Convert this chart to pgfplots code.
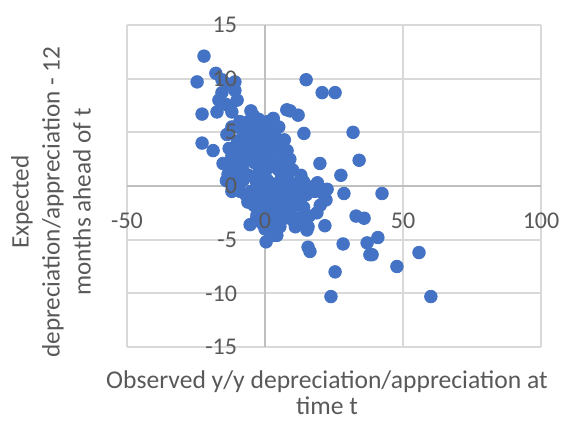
\documentclass[border=0pt]{standalone}
\usepackage{pgfplots}
\pgfplotsset{compat=1.18}
\usepackage{fontspec}
\setmainfont{Carlito}
\definecolor{dotblue}{HTML}{4472C4}
\definecolor{txtgrey}{HTML}{595959}
\definecolor{gridgrey}{HTML}{D9D9D9}
\definecolor{axisgrey}{HTML}{BFBFBF}
\pgfplotsset{
  commonaxis/.style={
    scale only axis, width=207pt, height=161pt,
    xmin=-50, xmax=100, ymin=-15, ymax=15,
    axis lines=middle,
    xtick={-50,0,50,100}, ytick={-15,-10,...,15},
    hide obscured x ticks=false, hide obscured y ticks=false,
    major tick length=0pt,
    tick label style={font=\fontsize{12}{14}\selectfont, text=txtgrey},
    /pgf/number format/assume math mode=true,
    xticklabel style={anchor=north, yshift=-10pt},
    yticklabel style={anchor=east, xshift=-10.5pt},
  }
}
\begin{document}
\begin{tikzpicture}
\useasboundingbox (-63.5pt,-36.5pt) rectangle (217.5pt,173.5pt);
\begin{axis}[
  commonaxis,
  axis line style={-, axisgrey, line width=0.9pt},
  xticklabels={}, yticklabels={},
  grid=major, major grid style={gridgrey, line width=0.9pt},
  label style={text=txtgrey, align=center, inner sep=0pt},
  xlabel={Observed y/y depreciation/appreciation at\\time t},
  ylabel={Expected\\depreciation/appreciation - 12\\months ahead of t},
  xlabel style={font=\fontsize{12.8}{13}\selectfont, at={(axis description cs:0.483,-0.0714)}, anchor=north},
  ylabel style={font=\fontsize{12.6}{15.5}\selectfont, at={(axis description cs:-0.1836,0.45)}, anchor=center, rotate=90},
]
\addplot[only marks, mark=*, mark size=3.15pt, color=dotblue, mark options={draw=none, fill=dotblue}] table {
x y
-22.1 12.1
-17.8 10.5
-24.6 9.7
-15.6 9.9
-13.4 9.5
-10.9 9.7
-15.6 8.7
-10.9 8.9
-16.7 8.0
-10.1 8.0
-12.7 7.4
-14.1 7.6
-22.8 6.7
-17.4 6.9
-12.0 6.9
-5.1 7.0
-9.1 6.0
-2.2 6.2
2.5 5.7
7.9 7.1
14.9 9.9
20.7 8.7
25.4 8.7
9.1 7.0
12.0 6.6
14.1 4.9
31.9 5.0
6.2 4.2
-22.8 4.0
-18.8 3.3
-13.8 4.8
-15.2 2.1
-12.7 1.2
-10.1 5.5
19.9 2.1
34.1 2.4
27.5 1.0
22.5 -0.3
21.0 -0.7
28.6 -0.7
42.4 -0.7
22.1 -1.3
18.8 -2.5
33.0 -2.8
35.9 -3.0
16.3 -0.1
21.7 -3.7
15.6 -3.8
15.2 -4.1
15.6 -5.7
16.3 -6.1
28.3 -5.4
37.0 -5.3
40.9 -4.8
38.0 -6.4
38.8 -6.4
25.4 -8.0
23.9 -10.3
55.8 -6.2
47.8 -7.5
60.1 -10.3
-5.4 -3.6
0.4 -5.2
-2.9 -2.7
4.3 -4.6
5.4 -3.8
-6.2 -1.5
2.9 -4.6
10.1 -3.2
-10.9 -0.2
-13.4 1.1
-9 4.0
-8 3.2
-10 3.0
-7 4.5
-11 2.5
-8 5.2
-6 4.8
-5 5.5
-4 4.5
-3 5.8
-2 5.0
-1 4.2
0 5.5
-7 3.8
-5 3.5
-3 3.2
-1 3.5
1 4.8
2 4.0
3 5.0
4 4.5
-9 3.0
-6 2.5
-4 2.2
-2 2.8
0 2.5
2 3.0
4 3.5
5 2.8
6 3.6
7 4.3
8 3.3
-10 2.0
-8 1.5
-6 1.0
-4 0.8
-2 1.5
0 1.2
1 2.0
3 1.8
5 1.5
7 2.0
9 2.5
10 1.5
13 1.0
-3 0.3
-1 0.0
1 0.5
2 -0.3
4 0.2
6 0.6
8 0.9
10 0.2
12 -0.2
14 0.4
18 -0.5
-5 -0.5
-3 -1.0
-1 -1.2
0 -0.6
2 -1.5
3 -0.8
5 -1.0
6 -2.0
7 -0.5
8 -1.5
9 -2.5
10 -1.0
11 -1.8
12 -3.0
13 -1.2
14 -2.0
-2 -2.0
0 -2.5
1 -3.0
2 -2.2
3 -3.5
4 -2.8
5 -3.2
7 -3.0
8 -2.3
-4 -1.8
-7 -0.8
-8 0.5
-9 1.2
-7 2.8
-4 6.5
-2 4.0
1 6.0
3 6.3
0 3.8
-6 6.0
-8 4.2
-11 3.5
5 5.5
6 1.0
0 -4.0
2 -4.2
-1 -3.5
-3 -3.0
19 0.3
20 -1.8
9 0.0
4 -1.8
15 -0.8
16 -2.8
-2 0.8
-6 -1.3
11 -3.8
14 -3.5
-13 3.5
-13 1.8
-14 0.5
-12 -0.5
-12 2.8
-11 0.3
-9 -0.5
-10 4.2
-12 5.5
};
\end{axis}
\begin{axis}[
  commonaxis,
  axis line style={draw=none},
]
\end{axis}
\end{tikzpicture}
\end{document}
